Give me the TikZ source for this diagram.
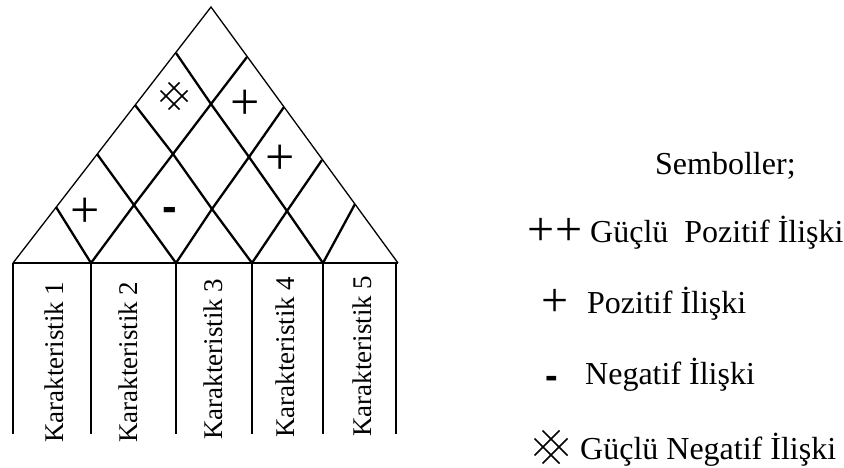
\documentclass[tikz,border=0pt]{standalone}
\usepackage{fontspec}
\setmainfont{Liberation Serif}
\newfontfamily\signfont{Liberation Sans}
\tikzset{
  roofedge/.style={line width=1.3pt, line join=miter},
  gridline/.style={line width=2.3pt},
  colline/.style={line width=2.4pt},
  colhead/.style={rotate=90, anchor=base west, inner sep=0pt,
                  font=\fontsize{27}{30}\selectfont},
  legendtext/.style={anchor=base west, inner sep=0pt,
                     font=\fontsize{32}{36}\selectfont},
  plussign/.style={inner sep=0pt, font=\fontsize{52}{56}\selectfont},
  minussign/.style={inner sep=0pt, font=\signfont\bfseries\fontsize{44}{48}\selectfont},
  hashmark/.style={line width=1.6pt},
  pics/hashsign/.style 2 args={code={
    \foreach \s in {-1,1}{
      \draw[hashmark] ({-#1+\s*#2},{-#1-\s*#2}) -- ({#1+\s*#2},{#1-\s*#2});
      \draw[hashmark] ({-#1+\s*#2},{#1+\s*#2}) -- ({#1+\s*#2},{-#1+\s*#2});
    }}}
}
\begin{document}
\begin{tikzpicture}[x=1pt, y=-1pt]
  \useasboundingbox (0,0) rectangle (844,468);

  % roof outline
  \coordinate (apex) at (211,7);
  \coordinate (lc) at (13,263);
  \coordinate (rc) at (398,263);
  % points on the left and right roof edges
  \coordinate (l1) at (56,207);
  \coordinate (l2) at (97,154);
  \coordinate (l3) at (135,105);
  \coordinate (l4) at (176,53);
  \coordinate (r1) at (247,57);
  \coordinate (r2) at (284,107);
  \coordinate (r3) at (322,160);
  \coordinate (r4) at (355,204);
  % inner crossings
  \coordinate (a1) at (211,104);
  \coordinate (a2) at (249,157);
  \coordinate (a3) at (287,211);
  \coordinate (b1) at (173,154);
  \coordinate (b2) at (212,209);
  \coordinate (c1) at (134,205);
  % crossings on the base line
  \coordinate (f1) at (91,263);
  \coordinate (f2) at (176,263);
  \coordinate (f3) at (252,263);
  \coordinate (f4) at (323,263);

  \draw[roofedge] (lc) -- (apex) -- (rc);
  \draw[gridline] (lc) -- (rc);

  % lines running down to the right
  \draw[gridline] (l4) -- (a1) -- (a2) -- (a3) -- (f4);
  \draw[gridline] (l3) -- (b1) -- (b2) -- (f3);
  \draw[gridline] (l2) -- (c1) -- (f2);
  \draw[gridline] (l1) -- (f1);
  % lines running down to the left
  \draw[gridline] (r1) -- (a1) -- (b1) -- (c1) -- (f1);
  \draw[gridline] (r2) -- (a2) -- (b2) -- (f2);
  \draw[gridline] (r3) -- (a3) -- (f3);
  \draw[gridline] (r4) -- (f4);

  % column separators
  \foreach \x/\n in {13/0, 91/1, 176/2, 252/3, 323/4, 396/5}{
    \coordinate (ct\n) at (\x,263);
    \coordinate (cb\n) at (\x,434);
    \draw[colline] (ct\n) -- (cb\n);
  }

  % column headings
  \node[colhead] (k1) at (63,443) {Karakteristik 1};
  \node[colhead] (k2) at (137,443) {Karakteristik 2};
  \node[colhead] (k3) at (222,440) {Karakteristik 3};
  \node[colhead] (k4) at (294,438) {Karakteristik 4};
  \node[colhead] (k5) at (371,437) {Karakteristik 5};

  % relation marks in the roof
  \pic (m1) at (174,96) {hashsign={9.5}{4}};
  \node[plussign] (m2) at (245,105) {+};
  \node[plussign] (m3) at (280,160) {+};
  \node[plussign] (m4) at (85,213) {+};
  \node[minussign] (m5) at (170,214) {-};

  % legend
  \node[legendtext] (lt0) at (655,175) {Semboller;};
  \node[plussign, font=\fontsize{48}{52}\selectfont] (ls1) at (555,232) {++};
  \node[legendtext] (lt1) at (590,242) {Güçlü\ \ Pozitif İlişki};
  \node[plussign, font=\fontsize{48}{52}\selectfont] (ls2) at (555,303) {+};
  \node[legendtext] (lt2) at (587,313) {Pozitif İlişki};
  \node[minussign, font=\signfont\bfseries\fontsize{38}{40}\selectfont] (ls3) at (552,382) {-};
  \node[legendtext] (lt3) at (585,384) {Negatif İlişki};
  \pic (ls4) at (551,447) {hashsign={12.5}{4}};
  \node[legendtext] (lt4) at (580,459) {Güçlü Negatif İlişki};
\end{tikzpicture}
\end{document}
